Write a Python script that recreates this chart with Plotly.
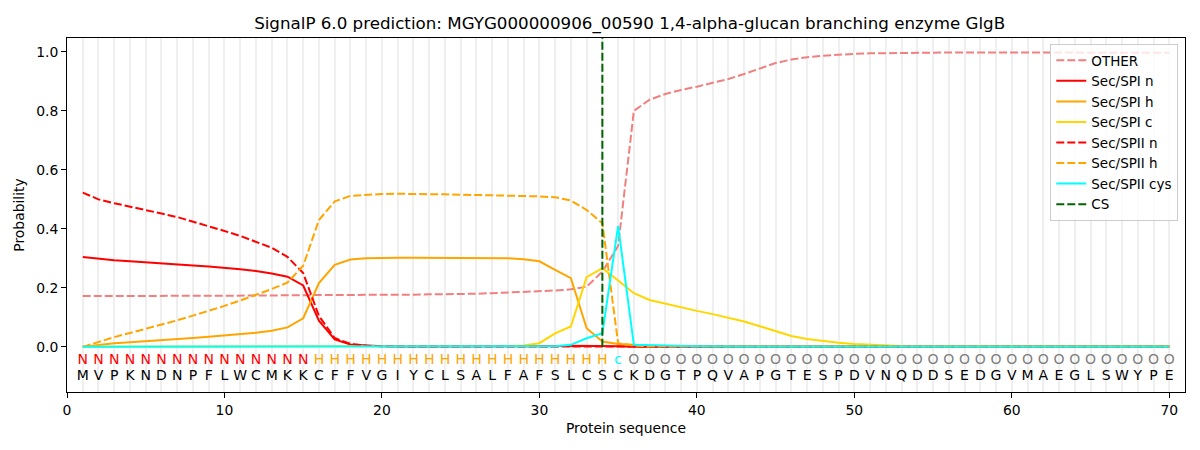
import plotly.graph_objects as go

positions = list(range(1, 71))
sequence = list("MVPKNDNPFLWCMKKCFFVGIYCLSALFAFSLCSCKDGTPQVAPGTESPDVNQDDSEDGVMAEGLSWYPE")
labels = list("N" * 15 + "H" * 19 + "c" + "O" * 35)
cs_position = 34

other = [0.172, 0.172, 0.172, 0.172, 0.172, 0.173, 0.173, 0.173, 0.173, 0.174,
         0.174, 0.174, 0.174, 0.175, 0.175, 0.175, 0.175, 0.176, 0.176, 0.176,
         0.177, 0.177, 0.178, 0.178, 0.179, 0.180, 0.182, 0.184, 0.186, 0.188,
         0.191, 0.195, 0.204, 0.255, 0.342, 0.800, 0.838, 0.857, 0.871, 0.882,
         0.894, 0.908, 0.925, 0.943, 0.962, 0.974, 0.982, 0.987, 0.991, 0.993,
         0.995, 0.996, 0.997, 0.998, 0.998, 0.998, 0.998, 0.998, 0.998, 0.998,
         0.998, 0.998, 0.998, 0.998, 0.998, 0.997, 0.997, 0.997, 0.997, 0.997]
spi_n = [0.305, 0.299, 0.294, 0.290, 0.287, 0.284, 0.280, 0.276, 0.272, 0.268,
         0.263, 0.257, 0.249, 0.238, 0.208, 0.089, 0.025, 0.008, 0.004, 0.002,
         0.001, 0.001, 0.001, 0.001, 0.001, 0.001, 0.001, 0.001, 0.001, 0.001,
         0.002, 0.004, 0.004, 0.004, 0.002] + [0.0005] * 35
spi_h = [0.000, 0.007, 0.012, 0.016, 0.019, 0.022, 0.026, 0.030, 0.034, 0.038,
         0.043, 0.048, 0.055, 0.066, 0.097, 0.216, 0.278, 0.296, 0.300, 0.302,
         0.302, 0.302, 0.302, 0.302, 0.302, 0.302, 0.301, 0.300, 0.297, 0.290,
         0.261, 0.233, 0.063, 0.018, 0.010, 0.007, 0.005, 0.004, 0.003, 0.002] + [0.001] * 30
spi_c = [0.0005] * 27 + [0.003, 0.005, 0.0125, 0.046, 0.069, 0.236, 0.267, 0.225,
         0.182, 0.159, 0.146, 0.133, 0.122, 0.111, 0.099, 0.086, 0.070, 0.053,
         0.037, 0.027, 0.020, 0.014, 0.010, 0.007, 0.004, 0.003, 0.002] + [0.001] * 16
spii_n = [0.523, 0.500, 0.487, 0.476, 0.464, 0.452, 0.440, 0.425, 0.410, 0.393,
          0.376, 0.357, 0.336, 0.305, 0.250, 0.105, 0.030, 0.010, 0.004, 0.002] + [0.001] * 50
spii_h = [0.000, 0.017, 0.033, 0.047, 0.061, 0.075, 0.090, 0.106, 0.122, 0.139,
          0.157, 0.176, 0.196, 0.218, 0.275, 0.430, 0.493, 0.512, 0.516, 0.518,
          0.519, 0.519, 0.518, 0.517, 0.516, 0.515, 0.514, 0.512, 0.511, 0.510,
          0.507, 0.496, 0.464, 0.419, 0.012, 0.004, 0.002] + [0.001] * 33
spii_cys = [0.0005] * 30 + [0.002, 0.007, 0.029, 0.046, 0.410, 0.007, 0.005, 0.004,
            0.003, 0.002] + [0.001] * 30

label_colors = {"N": "#ff0000", "H": "#ffa500", "c": "#00ffff", "O": "#808080"}

series = [
    ("OTHER", other, "#f08080", "dash"),
    ("Sec/SPI n", spi_n, "#ff0000", "solid"),
    ("Sec/SPI h", spi_h, "#ffa500", "solid"),
    ("Sec/SPI c", spi_c, "#ffd700", "solid"),
    ("Sec/SPII n", spii_n, "#ff0000", "dash"),
    ("Sec/SPII h", spii_h, "#ffa500", "dash"),
    ("Sec/SPII cys", spii_cys, "#00ffff", "solid"),
]

FONT = "DejaVu Sans"
fig = go.Figure()
for name, vals, color, dash in series:
    fig.add_trace(go.Scatter(
        x=positions, y=vals, mode="lines", name=name,
        line=dict(color=color, width=2, dash="8px,3px" if dash == "dash" else "solid"),
    ))

fig.add_trace(go.Scatter(
    x=[cs_position, cs_position], y=[0, 1.05], mode="lines", name="CS",
    line=dict(color="#006400", width=2, dash="8px,3px"),
))

fig.add_trace(go.Scatter(
    x=positions, y=[-0.047] * len(positions), mode="text", text=labels,
    textfont=dict(family=FONT, size=14, color=[label_colors[l] for l in labels]),
    showlegend=False, hoverinfo="skip",
))
fig.add_trace(go.Scatter(
    x=positions, y=[-0.101] * len(positions), mode="text", text=sequence,
    textfont=dict(family=FONT, size=14, color="#000000"),
    showlegend=False, hoverinfo="skip",
))

# page body has an 8px margin; compensate so the figure lands where the reference is
fig.update_layout(
    width=1192, height=442,
    margin=dict(l=59, r=15, t=30, b=58, autoexpand=False),
    paper_bgcolor="white", plot_bgcolor="white",
    font=dict(family=FONT, size=14, color="black"),
    title=dict(
        text="SignalP 6.0 prediction: MGYG000000906_00590 1,4-alpha-glucan branching enzyme GlgB",
        x=0.5215, xanchor="center", y=1 - 15 / 442, yanchor="middle",
        font=dict(family=FONT, size=16.7, color="black"),
    ),
    legend=dict(
        x=0.994, y=0.983, xanchor="right", yanchor="top",
        bgcolor="rgba(255,255,255,0.8)", bordercolor="#cccccc", borderwidth=1,
        font=dict(family=FONT, size=13.5, color="black"),
        tracegroupgap=0, itemwidth=30,
    ),
    showlegend=True,
)

fig.update_xaxes(
    range=[0, 71], tickmode="array", tickvals=list(range(0, 71, 10)),
    showline=True, linecolor="black", linewidth=1, mirror=True,
    ticks="outside", ticklen=5, tickcolor="black",
    showgrid=True, gridcolor="#efefef", gridwidth=2,
    minor=dict(dtick=1, tick0=0, showgrid=True, gridcolor="#efefef", gridwidth=2),
    zeroline=False, automargin=False,
    tickfont=dict(family=FONT, size=13.9),
    title=dict(text="Protein sequence", font=dict(family=FONT, size=13.9), standoff=6),
)
fig.update_yaxes(
    range=[-0.153, 1.047], tickmode="array", tickvals=[0, 0.2, 0.4, 0.6, 0.8, 1.0],
    ticktext=["0.0", "0.2", "0.4", "0.6", "0.8", "1.0"],
    showline=True, linecolor="black", linewidth=1, mirror=True,
    ticks="outside", ticklen=5, tickcolor="black",
    showgrid=False, zeroline=False, automargin=False,
    tickfont=dict(family=FONT, size=13.9),
    title=dict(text="Probability", font=dict(family=FONT, size=13.9), standoff=8),
)

fig.write_html("out.html")
